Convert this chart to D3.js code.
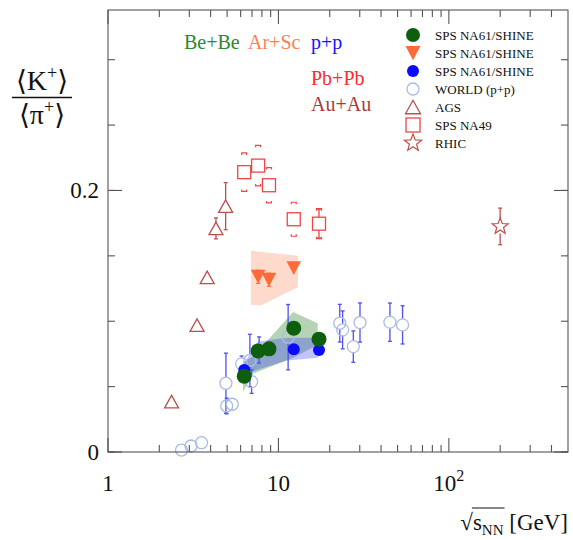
<!DOCTYPE html>
<html>
<head>
<meta charset="utf-8">
<script src="https://cdn.jsdelivr.net/npm/d3@7"></script>
<style>
  html, body { margin: 0; padding: 0; background: #fff; }
  svg { display: block; }
  text { font-family: "Liberation Serif", "DejaVu Serif", serif; }
</style>
</head>
<body>
<svg id="chart" width="573" height="540"></svg>
<script>
// ---------------- data ----------------
const xTickValues = [1, 10, 100];
const xTickLabels = ["1", "10", "10|2"];
const yTickValues = [0, 0.2];
const yTickLabels = ["0", "0.2"];

// NA61/SHINE Be+Be
const beE = [6.3, 7.6, 8.8, 12.3, 17.3];
const beR = [0.058, 0.0773, 0.0789, 0.0947, 0.0863];
const beErr = [0.002, 0.002, 0.002, 0.003, 0.002];
const beBandE = [6.2, 7.1, 12.2, 17.0];
const beBandLo = [0.046, 0.060, 0.072, 0.082];
const beBandHi = [0.069, 0.073, 0.107, 0.0985];

// NA61/SHINE Ar+Sc
const arE = [7.6, 8.8, 12.3];
const arR = [0.134, 0.1317, 0.1406];
const arErr = [0.005, 0.005, 0.003];
const arBandE = [6.9, 8.0, 13.0];
const arBandLo = [0.1125, 0.1125, 0.126];
const arBandHi = [0.154, 0.153, 0.150];

// NA61/SHINE p+p
const ppE = [6.3, 7.6, 8.8, 12.3, 17.3];
const ppR = [0.0628, 0.077, 0.079, 0.0786, 0.078];
const ppErr = [0.003, 0.003, 0.003, 0.004, 0.003];
const ppBandE = [6.2, 7.6, 11.2, 17.0];
const ppBandLo = [0.059, 0.063, 0.070, 0.072];
const ppBandHi = [0.0666, 0.0845, 0.0873, 0.0873];

// WORLD (p+p)
const worldE = [2.70, 3.07, 3.54, 4.92, 4.97, 5.36, 6.08, 6.8, 6.96, 7.7, 11.4, 22.9, 23.8, 27.5, 30.1, 45.1, 53.5];
const worldR = [0.0015, 0.0046, 0.0071, 0.0526, 0.0352, 0.0365, 0.0674, 0.070, 0.0538, 0.078, 0.0878, 0.0985, 0.0934, 0.0806, 0.099, 0.0993, 0.0972];
const worldErr = [0, 0, 0, 0.023, 0.006, 0.004, 0.006, 0.02, 0.009, 0.01, 0.025, 0.0144, 0.0145, 0.012, 0.015, 0.0146, 0.0146];

// AGS (Au+Au)
const agsE = [2.36, 3.33, 3.82, 4.3, 4.9];
const agsR = [0.0385, 0.097, 0.1335, 0.171, 0.188];
const agsErr = [0.002, 0.003, 0.004, 0.008, 0.018];

// SPS NA49 (Pb+Pb)
const na49E = [6.3, 7.6, 8.8, 12.3, 17.3];
const na49R = [0.214, 0.219, 0.204, 0.178, 0.1746];
const na49Stat = [0.003, 0.003, 0.003, 0.003, 0.011];
const na49Sys = [0.0147, 0.0155, 0.0135, 0.013, 0.0115];

// RHIC (Au+Au)
const rhicE = [200];
const rhicR = [0.1725];
const rhicErr = [0.014];

const reactionLabels = [
  { t: "Be+Be", c: "#2b8a2b", x: 184, y: 49 },
  { t: "Ar+Sc", c: "#ff7f50", x: 248, y: 49 },
  { t: "p+p",   c: "#1414ff", x: 311, y: 49 },
  { t: "Pb+Pb", c: "#ff2a2a", x: 311, y: 85 },
  { t: "Au+Au", c: "#a83c3c", x: 311, y: 111 }
];

const legendItems = [
  { label: "SPS NA61/SHINE", marker: "fcircle", color: "#0d5f0d", size: 7 },
  { label: "SPS NA61/SHINE", marker: "ftridown", color: "#ff6a3a", size: 7.5 },
  { label: "SPS NA61/SHINE", marker: "fcircle", color: "#0a0aff", size: 6 },
  { label: "WORLD (p+p)", marker: "ocircle", color: "#a9bce6", size: 6 },
  { label: "AGS", marker: "otriup", color: "#b85050", size: 7.5 },
  { label: "SPS NA49", marker: "osquare", color: "#f04545", size: 7 },
  { label: "RHIC", marker: "ostar", color: "#c05050", size: 9 }
];

// ---------------- setup ----------------
const svg = d3.select("#chart");
const L = 108, R = 568, T = 10, B = 452;
const x = d3.scaleLog().domain([1, 500]).range([L, R]);
const y = d3.scaleLinear().domain([0, 0.338]).range([B, T]);

const frameColor = "#555";

// bands
function band(E, lo, hi, fill, op) {
  const data = E.map((e, i) => ({ e, lo: lo[i], hi: hi[i] }));
  svg.append("path").datum(data)
    .attr("d", d3.area().x(d => x(d.e)).y0(d => y(d.lo)).y1(d => y(d.hi)))
    .attr("fill", fill).attr("fill-opacity", op).attr("stroke", "none");
}
band(arBandE, arBandLo, arBandHi, "#f9a27c", 0.4);
band(beBandE, beBandLo, beBandHi, "#3c8c3c", 0.38);
band(ppBandE, ppBandLo, ppBandHi, "#3535ff", 0.3);

// marker drawing
function star(r) {
  const pts = [];
  for (let i = 0; i < 10; i++) {
    const rr = i % 2 === 0 ? r : r * 0.42;
    const a = -Math.PI / 2 + i * Math.PI / 5;
    pts.push([rr * Math.cos(a), rr * Math.sin(a)]);
  }
  return "M" + pts.map(p => p.join(",")).join("L") + "Z";
}
function drawMarker(g, type, cx, cy, s, color) {
  if (type === "fcircle") {
    g.append("circle").attr("cx", cx).attr("cy", cy).attr("r", s).attr("fill", color);
  } else if (type === "ocircle") {
    g.append("circle").attr("cx", cx).attr("cy", cy).attr("r", s).attr("fill", "none")
      .attr("stroke", color).attr("stroke-width", 1.3);
  } else if (type === "ftridown") {
    const h = s * 1.9;
    g.append("path").attr("d", `M${cx - s},${cy - h / 2}L${cx + s},${cy - h / 2}L${cx},${cy + h / 2}Z`)
      .attr("fill", color);
  } else if (type === "otriup") {
    const h = s * 1.8;
    g.append("path").attr("d", `M${cx - s},${cy + h / 2}L${cx + s},${cy + h / 2}L${cx},${cy - h / 2}Z`)
      .attr("fill", "none").attr("stroke", color).attr("stroke-width", 1.3);
  } else if (type === "osquare") {
    g.append("rect").attr("x", cx - s).attr("y", cy - s).attr("width", 2 * s).attr("height", 2 * s)
      .attr("fill", "none").attr("stroke", color).attr("stroke-width", 1.3);
  } else if (type === "ostar") {
    g.append("path").attr("d", star(s)).attr("transform", `translate(${cx},${cy})`)
      .attr("fill", "none").attr("stroke", color).attr("stroke-width", 1.2);
  }
}
function errBars(g, E, Rv, Err, half, color, cap) {
  E.forEach((e, i) => {
    const cx = x(e), cy = y(Rv[i]);
    const top = y(Rv[i] + Err[i]), bot = y(Rv[i] - Err[i]);
    if (top < cy - half) {
      g.append("line").attr("x1", cx).attr("x2", cx).attr("y1", cy - half).attr("y2", top)
        .attr("stroke", color).attr("stroke-width", 1.3);
      g.append("line").attr("x1", cx - cap).attr("x2", cx + cap).attr("y1", top).attr("y2", top)
        .attr("stroke", color).attr("stroke-width", 1.3);
    }
    if (bot > cy + half) {
      g.append("line").attr("x1", cx).attr("x2", cx).attr("y1", cy + half).attr("y2", bot)
        .attr("stroke", color).attr("stroke-width", 1.3);
      g.append("line").attr("x1", cx - cap).attr("x2", cx + cap).attr("y1", bot).attr("y2", bot)
        .attr("stroke", color).attr("stroke-width", 1.3);
    }
  });
}
function series(E, Rv, Err, type, s, color, errColor, half) {
  const g = svg.append("g");
  errBars(g, E, Rv, Err, half, errColor, 2);
  E.forEach((e, i) => drawMarker(g, type, x(e), y(Rv[i]), s, color));
}

// NA49 systematic brackets
function sysBrackets(E, Rv, Sys, color) {
  const g = svg.append("g");
  E.forEach((e, i) => {
    const cx = x(e);
    const t = y(Rv[i] + Sys[i]), b = y(Rv[i] - Sys[i]);
    g.append("path").attr("d", `M${cx - 2.5},${t + 2}L${cx - 2.5},${t}L${cx + 2.5},${t}L${cx + 2.5},${t + 2}`)
      .attr("fill", "none").attr("stroke", color).attr("stroke-width", 1.2);
    g.append("path").attr("d", `M${cx - 2.5},${b - 2}L${cx - 2.5},${b}L${cx + 2.5},${b}L${cx + 2.5},${b - 2}`)
      .attr("fill", "none").attr("stroke", color).attr("stroke-width", 1.2);
  });
}

series(worldE, worldR, worldErr, "ocircle", 6, "#a9bce6", "#5050f0", 6);
series(agsE, agsR, agsErr, "otriup", 7, "#b85050", "#b85050", 6.5);
sysBrackets(na49E, na49R, na49Sys, "#f04545");
series(na49E, na49R, na49Stat, "osquare", 6.5, "#f04545", "#f04545", 6.5);
series(rhicE, rhicR, rhicErr, "ostar", 8.5, "#c05050", "#c05050", 7);
series(ppE, ppR, ppErr, "fcircle", 6, "#0a0aff", "#3a3aff", 6);
series(beE, beR, beErr, "fcircle", 7.5, "#0d5f0d", "#0d5f0d", 7.5);
series(arE, arR, arErr, "ftridown", 7.3, "#ff6a3a", "#ff6a3a", 6.5);

// ---------------- frame & ticks ----------------
const fg = svg.append("g").attr("stroke", frameColor).attr("stroke-width", 1.1);
fg.append("rect").attr("x", L).attr("y", T).attr("width", R - L).attr("height", B - T).attr("fill", "none");

const xMinor = [];
[1, 10, 100].forEach(d => { for (let k = 2; k <= 9; k++) if (d * k < 500) xMinor.push(d * k); });
xMinor.forEach(v => {
  fg.append("line").attr("x1", x(v)).attr("x2", x(v)).attr("y1", B).attr("y2", B - 7);
  fg.append("line").attr("x1", x(v)).attr("x2", x(v)).attr("y1", T).attr("y2", T + 7);
});
xTickValues.forEach(v => {
  fg.append("line").attr("x1", x(v)).attr("x2", x(v)).attr("y1", B).attr("y2", B - 14);
  fg.append("line").attr("x1", x(v)).attr("x2", x(v)).attr("y1", T).attr("y2", T + 14);
});
const yMinor = d3.range(0, 0.336, 0.05);
yMinor.forEach(v => {
  fg.append("line").attr("x1", L).attr("x2", L + 7).attr("y1", y(v)).attr("y2", y(v));
  fg.append("line").attr("x1", R).attr("x2", R - 7).attr("y1", y(v)).attr("y2", y(v));
});
yTickValues.forEach(v => {
  fg.append("line").attr("x1", L).attr("x2", L + 14).attr("y1", y(v)).attr("y2", y(v));
  fg.append("line").attr("x1", R).attr("x2", R - 14).attr("y1", y(v)).attr("y2", y(v));
});

// tick labels
xTickValues.forEach((v, i) => {
  const parts = xTickLabels[i].split("|");
  const t = svg.append("text").attr("x", x(v)).attr("y", 491).attr("text-anchor", "middle")
    .attr("font-size", 23).attr("fill", "#111");
  t.append("tspan").text(parts[0]);
  if (parts[1]) t.append("tspan").attr("dy", -10).attr("font-size", 16).text(parts[1]);
});
yTickValues.forEach((v, i) => {
  svg.append("text").attr("x", 99).attr("y", y(v) + 8).attr("text-anchor", "end")
    .attr("font-size", 23).attr("fill", "#111").text(yTickLabels[i]);
});

// ---------------- axis titles ----------------
// y title: fraction <K+>/<pi+>
const num = svg.append("text").attr("x", 42).attr("y", 90).attr("text-anchor", "middle")
  .attr("font-size", 28).attr("fill", "#111");
num.append("tspan").text("\u27E8K");
num.append("tspan").attr("dy", -11).attr("font-size", 18).text("+");
num.append("tspan").attr("dy", 11).text("\u27E9");
svg.append("line").attr("x1", 12).attr("x2", 72).attr("y1", 97.5).attr("y2", 97.5)
  .attr("stroke", "#111").attr("stroke-width", 1.3);
const den = svg.append("text").attr("x", 42).attr("y", 124).attr("text-anchor", "middle")
  .attr("font-size", 28).attr("fill", "#111");
den.append("tspan").text("\u27E8\u03C0");
den.append("tspan").attr("dy", -11).attr("font-size", 18).text("+");
den.append("tspan").attr("dy", 11).text("\u27E9");

// x title: sqrt(s_NN) [GeV]
const xt = svg.append("text").attr("x", 568).attr("y", 530).attr("text-anchor", "end")
  .attr("font-size", 23).attr("fill", "#111");
xt.append("tspan").text("\u221A");
xt.append("tspan").text("s");
xt.append("tspan").attr("dy", 5).attr("font-size", 15).text("NN");
xt.append("tspan").attr("dy", -5).text(" [GeV]");
{
  const node = xt.node();
  const s0 = node.getStartPositionOfChar(1).x;
  const s1 = node.getEndPositionOfChar(3).x;
  svg.append("line").attr("x1", s0 - 1).attr("x2", s1 + 1).attr("y1", 508).attr("y2", 508)
    .attr("stroke", "#111").attr("stroke-width", 1.1);
}

// reaction labels
reactionLabels.forEach(d => {
  svg.append("text").attr("x", d.x).attr("y", d.y).attr("font-size", 20).attr("fill", d.c).text(d.t);
});

// legend
const lg = svg.append("g");
legendItems.forEach((d, i) => {
  const cy = 35 + i * 18;
  drawMarker(lg, d.marker, 413, cy, d.size, d.color);
  lg.append("text").attr("x", 435).attr("y", cy + 4.5).attr("font-size", 13).attr("fill", "#111").text(d.label);
});
</script>
</body>
</html>
